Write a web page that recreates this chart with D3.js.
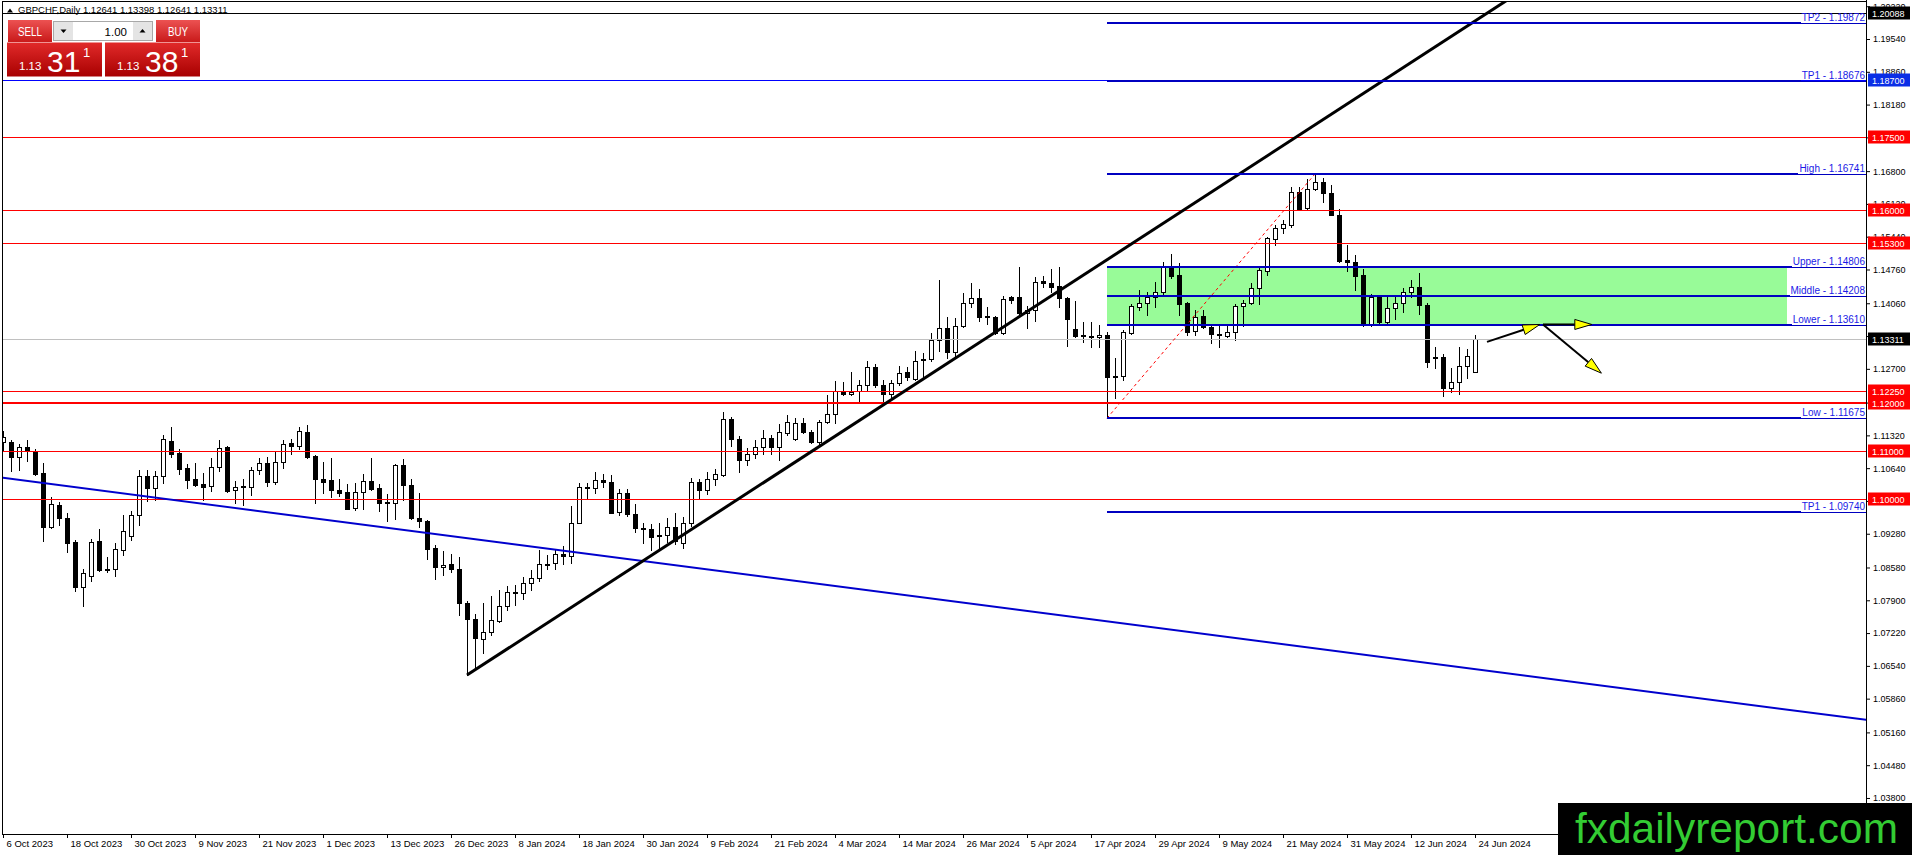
<!DOCTYPE html>
<html>
<head>
<meta charset="utf-8">
<title>GBPCHF Daily</title>
<script src="https://cdn.jsdelivr.net/npm/d3@7"></script>
<style>
  html, body { margin: 0; padding: 0; background: #fff; overflow: hidden; }
  #svg1 { display: block; font-family: "Liberation Sans", Arial, sans-serif; }
</style>
</head>
<body>
<svg id="svg1" width="1912" height="855"></svg>
<script>
// values
var symbolTitle = 'GBPCHF,Daily';
var firstDay = '2023-10-06';
var lastDay = '2024-06-24';
var holidays = ['2023-12-25', '2024-01-01'];

var openP = [
  1.1119,1.1118,1.1087,1.1108,1.1100,1.1054,1.0941,1.0987,1.0961,1.0910,
  1.0817,1.0841,1.0913,1.0855,1.0855,1.0894,1.0924,1.0966,1.1048,1.1022,
  1.1047,1.1120,1.1095,1.1064,1.1041,1.1031,1.1027,1.1067,1.1107,1.1018,
  1.1025,1.1024,1.1060,1.1074,1.1036,1.1076,1.1116,1.1109,1.1139,1.1090,
  1.1042,1.1039,1.1019,1.1015,1.0982,1.1014,1.1038,1.1023,1.0993,1.0991,
  1.1070,1.1029,1.0960,1.0954,1.0898,1.0859,1.0865,1.0855,1.0784,1.0751,
  1.0710,1.0724,1.0748,1.0779,1.0806,1.0805,1.0825,1.0836,1.0864,1.0867,
  1.0886,1.0882,1.0951,1.1023,1.1022,1.1040,1.1035,1.0974,1.1012,1.0969,
  1.0940,1.0937,1.0925,1.0925,1.0941,1.0908,1.0951,1.1035,1.1019,1.1041,
  1.1050,1.1165,1.1124,1.1080,1.1093,1.1107,1.1126,1.1107,1.1136,1.1124,
  1.1157,1.1138,1.1119,1.1159,1.1177,1.1221,1.1217,1.1223,1.1236,1.1273,
  1.1237,1.1217,1.1241,1.1263,1.1248,1.1288,1.1290,1.1329,1.1354,1.1304,
  1.1358,1.1406,1.1416,1.1379,1.1378,1.1344,1.1418,1.1420,1.1385,1.1392,
  1.1452,1.1447,1.1442,1.1416,1.1353,1.1341,1.1338,1.1335,1.1340,1.1256,
  1.1255,1.1345,1.1398,1.1407,1.1418,1.1430,1.1481,1.1465,1.1406,1.1349,
  1.1380,1.1356,1.1342,1.1339,1.1347,1.1400,1.1407,1.1437,1.1472,1.1539,
  1.1563,1.1568,1.1637,1.1603,1.1642,1.1658,1.1635,1.1590,1.1496,1.1491,
  1.1465,1.1362,1.1420,1.1368,1.1397,1.1406,1.1429,1.1439,1.1402,1.1295,
  1.1294,1.1230,1.1242,1.1276,1.12641
];
var highP = [
  1.1141,1.1123,1.1114,1.1123,1.1103,1.1074,1.1004,1.0993,1.0972,1.0914,
  1.0855,1.0917,1.0937,1.0879,1.0908,1.0967,1.0975,1.1060,1.1060,1.1058,
  1.1133,1.1150,1.1104,1.1073,1.1074,1.1055,1.1085,1.1123,1.1109,1.1038,
  1.1041,1.1067,1.1086,1.1088,1.1098,1.1123,1.1125,1.1150,1.1153,1.1092,
  1.1076,1.1085,1.1042,1.1031,1.1033,1.1051,1.1086,1.1031,1.1011,1.1073,
  1.1083,1.1041,1.1013,1.0956,1.0904,1.0892,1.0886,1.0879,1.0788,1.0762,
  1.0784,1.0799,1.0812,1.0819,1.0822,1.0839,1.0852,1.0895,1.0884,1.0896,
  1.0902,1.0986,1.1034,1.1034,1.1057,1.1051,1.1050,1.1021,1.1021,1.0989,
  1.0951,1.0948,1.0950,1.0960,1.0971,1.0962,1.1043,1.1041,1.1057,1.1062,
  1.1180,1.1171,1.1130,1.1105,1.1123,1.1143,1.1133,1.1156,1.1174,1.1169,
  1.1168,1.1143,1.1163,1.1215,1.1244,1.1242,1.1263,1.1247,1.1286,1.1280,
  1.1247,1.1247,1.1275,1.1273,1.1306,1.1302,1.1344,1.1454,1.1377,1.1375,
  1.1427,1.1447,1.1435,1.1399,1.1380,1.1421,1.1422,1.1482,1.1400,1.1461,
  1.1463,1.1478,1.1482,1.1420,1.1411,1.1368,1.1368,1.1361,1.1347,1.1292,
  1.1351,1.1405,1.1434,1.1430,1.1451,1.1492,1.1508,1.1489,1.1409,1.1392,
  1.1392,1.1361,1.1361,1.1358,1.1405,1.1413,1.1449,1.1482,1.1543,1.1568,
  1.1579,1.1648,1.1648,1.1663,1.16741,1.1665,1.1651,1.1601,1.1527,1.1506,
  1.1478,1.1425,1.1422,1.1418,1.1418,1.1437,1.1454,1.1469,1.1406,1.1316,
  1.1300,1.1271,1.1315,1.1312,1.13398
];
var lowP = [
  1.1100,1.1059,1.1060,1.1078,1.1049,1.0912,1.0939,1.0947,1.0891,1.0810,
  1.0779,1.0831,1.0851,1.0848,1.0841,1.0884,1.0915,1.0946,1.0995,1.0998,
  1.1034,1.1088,1.1052,1.1022,1.1026,1.0998,1.1016,1.1059,1.1015,1.0991,
  1.0987,1.1009,1.1051,1.1027,1.1031,1.1064,1.1094,1.1103,1.1085,1.0991,
  1.1012,1.1004,1.1007,1.0979,1.0977,1.0980,1.1019,1.0975,1.0955,1.0958,
  1.0998,1.0959,1.0943,1.0876,1.0834,1.0842,1.0848,1.0759,1.0635,1.0646,
  1.0680,1.0718,1.0744,1.0769,1.0781,1.0792,1.0812,1.0829,1.0855,1.0855,
  1.0865,1.0867,1.0950,1.1002,1.1012,1.1025,1.0971,1.0967,1.0964,1.0931,
  1.0908,1.0895,1.0896,1.0910,1.0907,1.0899,1.0944,1.1002,1.1011,1.1029,
  1.1047,1.1110,1.1057,1.1071,1.1085,1.1094,1.1094,1.1080,1.1133,1.1123,
  1.1136,1.1117,1.1109,1.1157,1.1157,1.1215,1.1216,1.1204,1.1226,1.1233,
  1.1199,1.1212,1.1237,1.1246,1.1247,1.1248,1.1287,1.1306,1.1292,1.1292,
  1.1356,1.1399,1.1370,1.1363,1.1342,1.1342,1.1407,1.1378,1.1354,1.1370,
  1.1440,1.1430,1.1399,1.1318,1.1337,1.1326,1.1315,1.1316,1.11675,1.1209,
  1.1247,1.1342,1.1393,1.1382,1.1399,1.1423,1.1458,1.1382,1.1340,1.1340,
  1.1354,1.1324,1.1316,1.1337,1.1330,1.1359,1.1405,1.1405,1.1465,1.1527,
  1.1552,1.1565,1.1599,1.1599,1.1640,1.1617,1.1589,1.1492,1.1472,1.1433,
  1.1359,1.1359,1.1366,1.1364,1.1373,1.1388,1.1420,1.1384,1.1273,1.1272,
  1.1214,1.1221,1.1217,1.1252,1.12641
];
var closeP = [
  1.1128,1.1087,1.1107,1.1100,1.1052,1.0941,1.0990,1.0960,1.0908,1.0817,
  1.0846,1.0910,1.0853,1.0854,1.0896,1.0933,1.0966,1.1047,1.1022,1.1048,
  1.1124,1.1094,1.1063,1.1040,1.1030,1.1024,1.1067,1.1105,1.1017,1.1024,
  1.1027,1.1060,1.1074,1.1036,1.1076,1.1114,1.1109,1.1141,1.1087,1.1041,
  1.1036,1.1018,1.1013,1.0980,1.1014,1.1037,1.1021,1.0991,1.0992,1.1070,
  1.1029,1.0960,1.0954,1.0897,1.0859,1.0864,1.0855,1.0785,1.0751,1.0711,
  1.0725,1.0750,1.0779,1.0807,1.0808,1.0825,1.0836,1.0866,1.0866,1.0886,
  1.0882,1.0951,1.1025,1.1025,1.1040,1.1035,1.0972,1.1012,1.0969,1.0940,
  1.0939,1.0922,1.0924,1.0942,1.0912,1.0951,1.1035,1.1018,1.1041,1.1051,
  1.1165,1.1124,1.1080,1.1094,1.1107,1.1126,1.1107,1.1138,1.1159,1.1157,
  1.1138,1.1119,1.1159,1.1176,1.1223,1.1217,1.1221,1.1237,1.1273,1.1236,
  1.1217,1.1240,1.1262,1.1253,1.1287,1.1291,1.1329,1.1354,1.1304,1.1359,
  1.1406,1.1416,1.1378,1.1378,1.1344,1.1414,1.1413,1.1385,1.1391,1.1451,
  1.1447,1.1440,1.1416,1.1373,1.1339,1.1340,1.1336,1.1340,1.1254,1.1255,
  1.1347,1.1400,1.1407,1.1420,1.1430,1.1481,1.1463,1.1405,1.1347,1.1378,
  1.1356,1.1342,1.1341,1.1346,1.1400,1.1407,1.1437,1.1474,1.1541,1.1563,
  1.1570,1.1637,1.1601,1.1642,1.1658,1.1635,1.1590,1.1494,1.1491,1.1463,
  1.1361,1.1420,1.1368,1.1397,1.1406,1.1429,1.1439,1.1402,1.1285,1.1292,
  1.1230,1.1242,1.1276,1.1297,1.13311
];

var priceTicks = [1.20220,1.19540,1.18860,1.18180,1.17500,1.16800,1.16120,1.15440,1.14760,
  1.14060,1.13380,1.12700,1.12000,1.11320,1.10640,1.09960,1.09280,1.08580,1.07900,
  1.07220,1.06540,1.05860,1.05160,1.04480,1.03800];

var redLevels = [1.17500, 1.16000, 1.15300, 1.12250, 1.12000, 1.11000, 1.10000];
var blueLevels = [1.18700];
var blackLevels = [1.20088];
var currentPrice = 1.13311;

var fibNames = ['TP2', 'TP1', 'High', 'Upper', 'Middle', 'Lower', 'Low', 'TP1'];
var fibValues = [1.19872, 1.18676, 1.16741, 1.14806, 1.14208, 1.13610, 1.11675, 1.09740];
var fibFromBar = 138;
var zoneToBar = 223;
var fibSwing = [[138, 1.11675], [164, 1.16741]];

var supportLine = [[58, 1.0635], [187.5, 1.2029]];
var resistLine = [[0, 1.1044], [232.9, 1.0542]];
var arrowPaths = [
  [[185.5, 1.1326], [192.1, 1.1362]],
  [[192.5, 1.1362], [198.6, 1.1362]],
  [[192.5, 1.1362], [199.8, 1.1261]]
];

var lotSize = '1.00';
var bidQuote = '1.13311';
var askQuote = '1.13381';
var siteName = 'fxdailyreport.com';

// ---- layout ----
var svg = d3.select('#svg1');
var plotLeft = 2, plotTop = 1, plotRight = 1866, plotBottom = 834;
var FONT = '"Liberation Sans", Arial, sans-serif';

var parseDay = d3.timeParse('%Y-%m-%d');
var dayKey = d3.timeFormat('%Y-%m-%d');
var dayLabel = d3.timeFormat('%-d %b %Y');
var holidaySet = new Set(holidays);
var days = d3.timeDay.range(parseDay(firstDay), d3.timeDay.offset(parseDay(lastDay), 1))
    .filter(function(d){
        var wd = d.getDay();
        return wd > 0 && wd < 6 && !holidaySet.has(dayKey(d));
    });

var bars = days.map(function(d, i){
    return {i: i, date: d, o: openP[i], h: highP[i], l: lowP[i], c: closeP[i]};
});

// 8 px per bar, chart shifted so the right edge sits ~48 bars past the last one
var x = d3.scaleLinear().domain([-0.375, 232.875]).range([0, plotRight]);
var y = d3.scaleLinear().domain([1.03053, 1.20349]).range([plotBottom, 0]);

var defs = svg.append('defs');
defs.append('clipPath').attr('id', 'plotClip')
    .append('rect')
    .attr('x', plotLeft + 1).attr('y', plotTop + 1)
    .attr('width', plotRight - plotLeft - 1).attr('height', plotBottom - plotTop - 1);

var gBtn = defs.append('linearGradient').attr('id', 'btnRed')
    .attr('x1', 0).attr('y1', 0).attr('x2', 0).attr('y2', 1);
gBtn.append('stop').attr('offset', '0%').attr('stop-color', '#ec5252');
gBtn.append('stop').attr('offset', '100%').attr('stop-color', '#c91a1a');
var gBox = defs.append('linearGradient').attr('id', 'boxRed')
    .attr('x1', 0).attr('y1', 0).attr('x2', 0).attr('y2', 1);
gBox.append('stop').attr('offset', '0%').attr('stop-color', '#e12a2a');
gBox.append('stop').attr('offset', '100%').attr('stop-color', '#a80000');

svg.append('rect').attr('width', 1912).attr('height', 855).attr('fill', '#fff');

var plot = svg.append('g').attr('clip-path', 'url(#plotClip)');

// green zone between Upper and Lower
plot.append('rect')
    .attr('x', x(fibFromBar))
    .attr('y', y(fibValues[3]))
    .attr('width', x(zoneToBar) - x(fibFromBar))
    .attr('height', y(fibValues[5]) - y(fibValues[3]))
    .attr('fill', '#98fb98');

// candles
var candles = plot.append('g').attr('shape-rendering', 'crispEdges');
candles.selectAll('.wick')
    .data(bars)
    .enter()
    .append('line')
    .attr('class', 'wick')
    .attr('x1', function(d){ return Math.round(x(d.i)) + 0.5; })
    .attr('x2', function(d){ return Math.round(x(d.i)) + 0.5; })
    .attr('y1', function(d){ return Math.round(y(d.h)); })
    .attr('y2', function(d){ return Math.round(y(d.l)) + 1; })
    .attr('stroke', '#000')
    .attr('stroke-width', 1);

candles.selectAll('.body')
    .data(bars)
    .enter()
    .append('rect')
    .attr('class', 'body')
    .attr('x', function(d){ return Math.round(x(d.i)) - 1.5; })
    .attr('y', function(d){ return Math.round(y(Math.max(d.o, d.c))) + 0.5; })
    .attr('width', 4)
    .attr('height', function(d){
        return Math.max(1, Math.round(y(Math.min(d.o, d.c))) - Math.round(y(Math.max(d.o, d.c))));
    })
    .attr('fill', function(d){ return d.c >= d.o ? '#fff' : '#000'; })
    .attr('stroke', '#000')
    .attr('stroke-width', 1);

// horizontal levels over the full width
var hLevels = []
    .concat(redLevels.map(function(v){ return {v: v, color: '#ff0000', w: v === 1.12 ? 2 : 1}; }))
    .concat(blueLevels.map(function(v){ return {v: v, color: '#0000ff', w: 1}; }))
    .concat(blackLevels.map(function(v){ return {v: v, color: '#000000', w: 1}; }))
    .concat([{v: currentPrice, color: '#c0c0c0', w: 1}]);

plot.selectAll('.level')
    .data(hLevels)
    .enter()
    .append('line')
    .attr('class', 'level')
    .attr('shape-rendering', 'crispEdges')
    .attr('x1', plotLeft).attr('x2', plotRight)
    .attr('y1', function(d){ return Math.round(y(d.v)) + (d.w === 1 ? 0.5 : 0); })
    .attr('y2', function(d){ return Math.round(y(d.v)) + (d.w === 1 ? 0.5 : 0); })
    .attr('stroke', function(d){ return d.color; })
    .attr('stroke-width', function(d){ return d.w; });

// trend lines (rays, clipped by the plot)
function extend(pts, fromI, toI){
    var slope = (pts[1][1] - pts[0][1]) / (pts[1][0] - pts[0][0]);
    return [[fromI, pts[0][1] + (fromI - pts[0][0]) * slope],
            [toI, pts[0][1] + (toI - pts[0][0]) * slope]];
}
var lineGen = d3.line().x(function(d){ return x(d[0]); }).y(function(d){ return y(d[1]); });

plot.append('path')
    .attr('d', lineGen(extend(resistLine, -2, 240)))
    .attr('fill', 'none').attr('stroke', '#0000cd').attr('stroke-width', 2);

plot.append('path')
    .attr('d', lineGen(extend(supportLine, supportLine[0][0], 240)))
    .attr('fill', 'none').attr('stroke', '#000').attr('stroke-width', 3);

// dotted swing line of the fibo
plot.append('path')
    .attr('d', lineGen(fibSwing))
    .attr('fill', 'none').attr('stroke', '#ff0000').attr('stroke-width', 1)
    .attr('stroke-dasharray', '3,3');

// fibo levels with labels
var fib = plot.append('g');
fibValues.forEach(function(v, k){
    var yy = Math.round(y(v));
    var label = fib.append('text')
        .attr('x', plotRight - 1)
        .attr('y', yy - 2)
        .attr('text-anchor', 'end')
        .attr('font-family', FONT)
        .attr('font-size', 10)
        .attr('fill', '#1a1ae6')
        .text(fibNames[k] + ' - ' + v.toFixed(5));
    var tw = label.node().getComputedTextLength();
    var split = plotRight - 1 - tw - 1;
    fib.append('line')
        .attr('shape-rendering', 'crispEdges')
        .attr('x1', x(fibFromBar)).attr('x2', split)
        .attr('y1', yy).attr('y2', yy)
        .attr('stroke', '#0000c0').attr('stroke-width', 2);
    fib.append('line')
        .attr('shape-rendering', 'crispEdges')
        .attr('x1', split).attr('x2', plotRight)
        .attr('y1', yy + 0.5).attr('y2', yy + 0.5)
        .attr('stroke', '#0000c0').attr('stroke-width', 1);
});

// forecast arrows
var arrowsG = plot.append('g');
arrowPaths.forEach(function(a){
    var x1 = x(a[0][0]), y1 = y(a[0][1]), x2 = x(a[1][0]), y2 = y(a[1][1]);
    var dx = x2 - x1, dy = y2 - y1, len = Math.sqrt(dx * dx + dy * dy);
    var ux = dx / len, uy = dy / len;
    var headLen = 17, half = 5;
    var bx = x2 - ux * headLen, by = y2 - uy * headLen;
    arrowsG.append('line')
        .attr('x1', x1).attr('y1', y1).attr('x2', bx).attr('y2', by)
        .attr('stroke', '#000').attr('stroke-width', 2);
    arrowsG.append('path')
        .attr('d', 'M' + x2 + ',' + y2 +
                   'L' + (bx - uy * half) + ',' + (by + ux * half) +
                   'L' + (bx + uy * half) + ',' + (by - ux * half) + 'Z')
        .attr('fill', '#ffff00').attr('stroke', '#000').attr('stroke-width', 1);
});

// frame
var frame = svg.append('g').attr('shape-rendering', 'crispEdges').attr('stroke', '#000');
frame.append('line').attr('x1', plotLeft + 0.5).attr('x2', plotLeft + 0.5).attr('y1', plotTop).attr('y2', plotBottom + 1);
frame.append('line').attr('x1', plotLeft).attr('x2', plotRight + 1).attr('y1', plotTop + 0.5).attr('y2', plotTop + 0.5);
frame.append('line').attr('x1', plotRight + 0.5).attr('x2', plotRight + 0.5).attr('y1', 0).attr('y2', plotBottom + 1);
frame.append('line').attr('x1', plotLeft).attr('x2', plotRight + 1).attr('y1', plotBottom + 0.5).attr('y2', plotBottom + 0.5);

// price axis
var gy = svg.append('g')
    .attr('transform', 'translate(' + plotRight + ',0)')
    .call(d3.axisRight(y).tickValues(priceTicks).tickFormat(d3.format('.5f')).tickSize(4).tickSizeOuter(0));
gy.select('.domain').remove();
gy.attr('font-family', FONT).attr('font-size', 9);
gy.selectAll('text').attr('x', 7).attr('fill', '#000');
gy.selectAll('line').attr('stroke', '#000');

// coloured price tags on the axis
var tags = []
    .concat(redLevels.map(function(v){ return {v: v, bg: '#ff0000'}; }))
    .concat(blueLevels.map(function(v){ return {v: v, bg: '#0a2ee6'}; }))
    .concat(blackLevels.map(function(v){ return {v: v, bg: '#000'}; }))
    .concat([{v: currentPrice, bg: '#000'}]);
var tagG = svg.selectAll('.tag')
    .data(tags)
    .enter()
    .append('g')
    .attr('class', 'tag')
    .attr('transform', function(d){ return 'translate(' + (plotRight + 2) + ',' + Math.round(y(d.v)) + ')'; });
tagG.append('rect')
    .attr('x', 0).attr('y', -6.5).attr('width', 42).attr('height', 13)
    .attr('fill', function(d){ return d.bg; });
tagG.append('text')
    .attr('x', 4).attr('y', 3.5)
    .attr('font-family', FONT).attr('font-size', 9)
    .attr('fill', '#fff')
    .text(function(d){ return d.v.toFixed(5); });

// time axis
var gx = svg.append('g')
    .attr('transform', 'translate(0,' + plotBottom + ')')
    .call(d3.axisBottom(x)
        .tickValues(d3.range(0, days.length, 8))
        .tickFormat(function(i){ return dayLabel(days[i]); })
        .tickSize(4).tickSizeOuter(0));
gx.select('.domain').remove();
gx.attr('font-family', FONT).attr('font-size', 9.5);
gx.selectAll('text').attr('text-anchor', 'start').attr('x', 3).attr('y', 6).attr('fill', '#000');
gx.selectAll('line').attr('stroke', '#000');

// chart title row
var last = bars[bars.length - 1];
svg.append('path').attr('d', 'M7,12.5L10,8.5L13,12.5Z').attr('fill', '#000');
svg.append('text')
    .attr('x', 18).attr('y', 13)
    .attr('font-family', FONT).attr('font-size', 9.5).attr('fill', '#000')
    .text(symbolTitle + '  ' + [last.o, last.h, last.l, last.c].map(function(v){ return v.toFixed(5); }).join(' '));

// one-click trading panel
var panel = svg.append('g').attr('class', 'trade-panel').attr('font-family', FONT);
panel.append('rect').attr('x', 8).attr('y', 20).attr('width', 44).attr('height', 22).attr('fill', 'url(#btnRed)');
panel.append('text').attr('x', 30).attr('y', 36).attr('text-anchor', 'middle')
    .attr('font-size', 13).attr('fill', '#fff').attr('textLength', 24).attr('lengthAdjust', 'spacingAndGlyphs').text('SELL');
panel.append('rect').attr('x', 156).attr('y', 20).attr('width', 44).attr('height', 22).attr('fill', 'url(#btnRed)');
panel.append('text').attr('x', 178).attr('y', 36).attr('text-anchor', 'middle')
    .attr('font-size', 13).attr('fill', '#fff').attr('textLength', 20).attr('lengthAdjust', 'spacingAndGlyphs').text('BUY');

panel.append('rect').attr('x', 53.5).attr('y', 21.5).attr('width', 99).attr('height', 19)
    .attr('fill', '#fff').attr('stroke', '#a8a8a8');
panel.append('rect').attr('x', 54).attr('y', 22).attr('width', 19).attr('height', 18).attr('fill', '#e4e4e4');
panel.append('rect').attr('x', 133).attr('y', 22).attr('width', 19).attr('height', 18).attr('fill', '#e4e4e4');
panel.append('path').attr('d', 'M60.5,29.5L66.5,29.5L63.5,33Z').attr('fill', '#000');
panel.append('path').attr('d', 'M139.5,32.5L145.5,32.5L142.5,29Z').attr('fill', '#000');
panel.append('text').attr('x', 127).attr('y', 35.5).attr('text-anchor', 'end')
    .attr('font-size', 11.5).attr('fill', '#000').text(lotSize);

function quoteBox(x0, quote){
    panel.append('rect').attr('x', x0).attr('y', 42.5).attr('width', 95).attr('height', 34).attr('fill', 'url(#boxRed)');
    panel.append('text').attr('x', x0 + 12).attr('y', 70)
        .attr('font-size', 11.5).attr('fill', '#fff').text(quote.slice(0, 4));
    panel.append('text').attr('x', x0 + 40).attr('y', 72)
        .attr('font-size', 30).attr('fill', '#fff').text(quote.slice(4, 6));
    panel.append('text').attr('x', x0 + 76).attr('y', 57)
        .attr('font-size', 13).attr('fill', '#fff').text(quote.slice(6));
}
quoteBox(7, bidQuote);
quoteBox(105, askQuote);

// site badge
svg.append('rect').attr('x', 1558).attr('y', 803).attr('width', 354).attr('height', 52).attr('fill', '#000');
svg.append('text')
    .attr('x', 1575).attr('y', 843)
    .attr('font-family', FONT).attr('font-size', 42.5)
    .attr('fill', '#33cc33')
    .attr('textLength', 323).attr('lengthAdjust', 'spacingAndGlyphs')
    .text(siteName);
</script>
</body>
</html>
